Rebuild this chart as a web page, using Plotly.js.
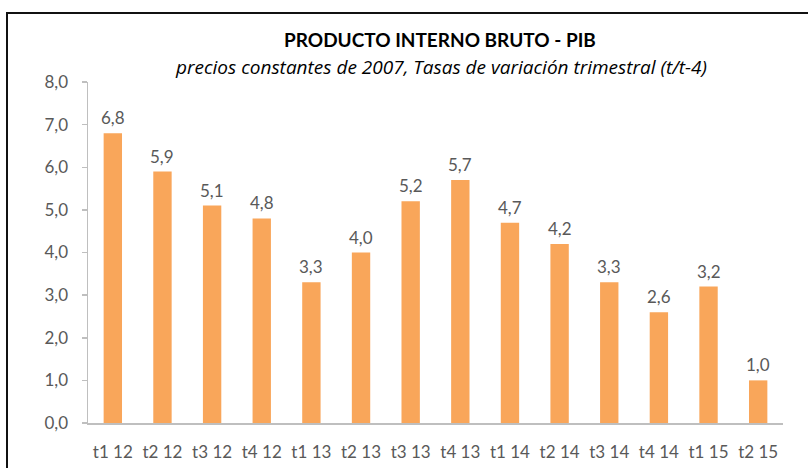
<!DOCTYPE html>
<html>
<head>
<meta charset="utf-8">
<script src="https://cdn.plot.ly/plotly-3.0.1.min.js"></script>
<style>
  html, body { margin: 0; padding: 0; background: #fff; }
  #frame { position: absolute; left: 6px; top: 12px; width: 820px; height: 480px;
           border-left: 2px solid #111; border-top: 2px solid #111; pointer-events: none; z-index: 5; }
  #chart { width: 808px; height: 468px; }
</style>
</head>
<body>
<div id="frame"></div>
<div id="chart"></div>
<script>
const categories = ["t1 12","t2 12","t3 12","t4 12","t1 13","t2 13","t3 13","t4 13","t1 14","t2 14","t3 14","t4 14","t1 15","t2 15"];
const values = [6.8, 5.9, 5.1, 4.8, 3.3, 4.0, 5.2, 5.7, 4.7, 4.2, 3.3, 2.6, 3.2, 1.0];
const yTicks = [0,1,2,3,4,5,6,7,8];
const titleText = "PRODUCTO INTERNO BRUTO - PIB";
const subtitleText = "precios constantes de 2007, Tasas de variación trimestral (t/t-4)";

const font = "Lato, 'Open Sans', sans-serif";
const grey = "#595959";

const trace = {
  type: "bar",
  x: categories,
  y: values,
  marker: { color: "#F9A65A" },
  width: 0.37,
  hoverinfo: "skip"
};

const labelAnns = categories.map((c, i) => ({
  x: c, y: values[i], xref: "x", yref: "y",
  text: values[i].toFixed(1).replace(".", ","),
  showarrow: false, yanchor: "bottom", yshift: 3,
  font: { family: font, size: 17, color: grey }
}));

const layout = {
  width: 808, height: 468,
  margin: { l: 88, r: 25, t: 82, b: 45 },
  paper_bgcolor: "#fff", plot_bgcolor: "#fff",
  showlegend: false,
  separators: ",.",
  bargap: 0.63,
  xaxis: {
    type: "category",
    showgrid: false, zeroline: false,
    showline: true, linecolor: "#BFBFBF", linewidth: 1.5,
    ticks: "", ticklabelstandoff: 13,
    tickfont: { family: font, size: 17, color: grey },
    fixedrange: true
  },
  yaxis: {
    range: [0, 8],
    tickvals: yTicks,
    tickformat: ".1f",
    showgrid: false, zeroline: false,
    showline: true, linecolor: "#BFBFBF", linewidth: 1.5,
    ticks: "outside", ticklen: 5, tickcolor: "#BFBFBF", tickwidth: 1.5,
    ticklabelstandoff: 10,
    tickfont: { family: font, size: 17, color: grey },
    fixedrange: true
  },
  annotations: [
    { text: "<b>" + titleText + "</b>", xref: "paper", yref: "paper",
      x: (440 - 88) / 695, y: 1, yshift: 43, yanchor: "middle", showarrow: false,
      font: { family: font, size: 19, color: "#000" } },
    { text: "<i>" + subtitleText + "</i>", xref: "paper", yref: "paper",
      x: (441 - 88) / 695, y: 1, yshift: 15, yanchor: "middle", showarrow: false,
      font: { family: "'Open Sans', sans-serif", size: 19, color: "#000" } }
  ].concat(labelAnns)
};

Plotly.newPlot("chart", [trace], layout, { displayModeBar: false, staticPlot: true });
</script>
</body>
</html>
